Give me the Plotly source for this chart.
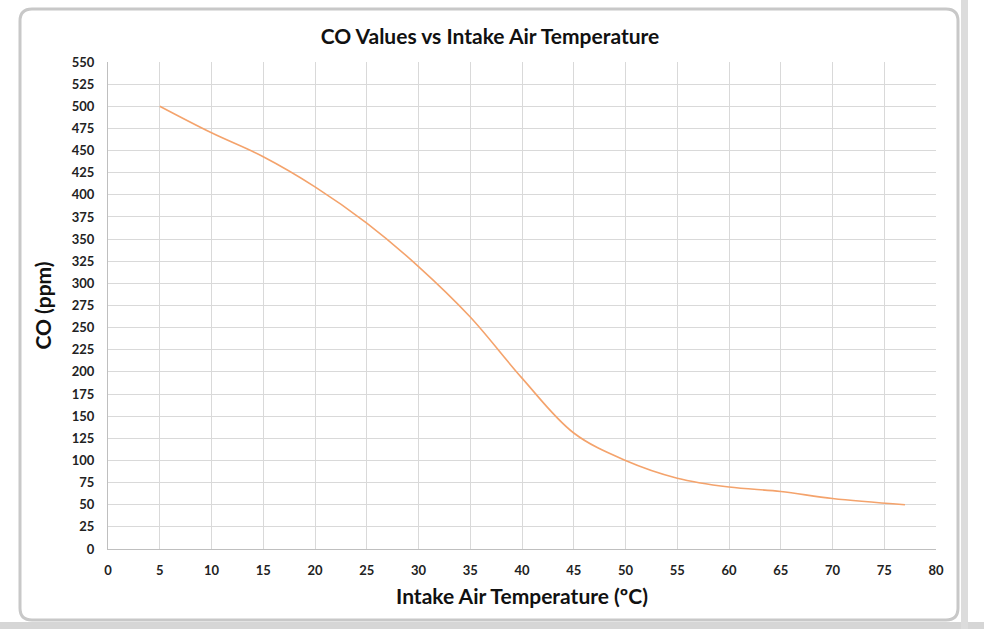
import plotly.graph_objects as go

temperature = [5, 10, 15, 20, 25, 30, 35, 40, 45, 50, 55, 60, 65, 70, 77]
co_ppm = [500, 470, 443, 409, 368, 319, 262, 193, 131, 100, 80, 70, 65, 57, 50]

x_ticks = list(range(0, 81, 5))
y_ticks = list(range(0, 551, 25))

W, H = 984, 629
L, R, T, B = 108, 936, 62, 549  # plot area pixels

def px(x):
    return (x - L) / (R - L)

def py(y):
    return (B - y) / (B - T)

fig = go.Figure()
fig.add_trace(go.Scatter(
    x=temperature, y=co_ppm, mode="lines",
    line=dict(color="#F4A36C", width=1.6, shape="spline", smoothing=1.0),
    showlegend=False, hoverinfo="x+y",
))

# rounded frame (Excel chart area border)
x0, y0, x1, y1, r = 20, 9, 958, 620, 12
path = (
    f"M {px(x0 + r)} {py(y0)} L {px(x1 - r)} {py(y0)} "
    f"Q {px(x1)} {py(y0)} {px(x1)} {py(y0 + r)} "
    f"L {px(x1)} {py(y1 - r)} Q {px(x1)} {py(y1)} {px(x1 - r)} {py(y1)} "
    f"L {px(x0 + r)} {py(y1)} Q {px(x0)} {py(y1)} {px(x0)} {py(y1 - r)} "
    f"L {px(x0)} {py(y0 + r)} Q {px(x0)} {py(y0)} {px(x0 + r)} {py(y0)} Z"
)
shapes = [
    dict(type="rect", xref="paper", yref="paper", x0=px(0), x1=px(W), y0=py(622), y1=py(H),
         fillcolor="#D6D6D6", line=dict(width=0), layer="below"),
    dict(type="rect", xref="paper", yref="paper", x0=px(961), x1=px(968), y0=py(0), y1=py(H),
         fillcolor="#DCDCDC", line=dict(width=0), layer="below"),
    dict(type="path", xref="paper", yref="paper", path=path,
         line=dict(color="#C8C8C8", width=3), fillcolor="rgba(0,0,0,0)", layer="below"),
]

font = "Lato, 'Open Sans', sans-serif"
fig.update_layout(
    width=W, height=H,
    margin=dict(l=L, r=W - R, t=T, b=H - B),
    paper_bgcolor="white", plot_bgcolor="white",
    shapes=shapes,
    title=dict(text="<b>CO Values vs Intake Air Temperature</b>", x=px(490), xref="paper",
               xanchor="center", y=1 - 37 / H, yanchor="middle",
               font=dict(family=font, size=21, color="#111")),
    font=dict(family=font, color="#222"),
    xaxis=dict(range=[0, 80], tickvals=x_ticks, ticktext=[f"<b>{v}</b>" for v in x_ticks],
               showgrid=True, gridcolor="#D9D9D9", gridwidth=1,
               showline=True, linecolor="#BFBFBF", linewidth=1, zeroline=False,
               ticks="", tickfont=dict(size=13, color="#222"), ticklabelstandoff=9,
               title=dict(text="<b>Intake Air Temperature (ºC)</b>", standoff=12,
                          font=dict(size=21, color="#111"))),
    yaxis=dict(range=[0, 550], tickvals=y_ticks, ticktext=[f"<b>{v}</b>" for v in y_ticks],
               showgrid=True, gridcolor="#D9D9D9", gridwidth=1,
               showline=True, linecolor="#BFBFBF", linewidth=1, zeroline=False,
               ticks="", tickfont=dict(size=13, color="#222"), ticklabelstandoff=10,
               title=dict(text="<b>CO (ppm)</b>", standoff=14,
                          font=dict(size=21, color="#111"))),
)

fig.write_html("out.html")
